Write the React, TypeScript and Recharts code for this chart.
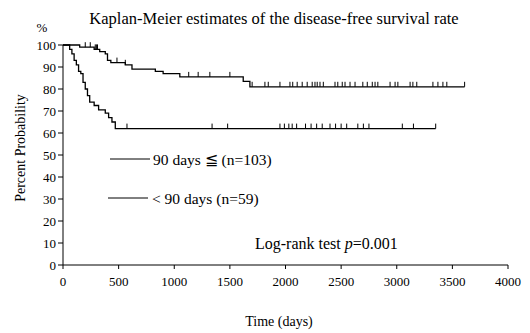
import React from 'react';
import { ComposedChart, Line, Scatter, XAxis, YAxis } from 'recharts';

// step points of the Kaplan-Meier curves: time (days) and survival (%)
const longTimes = [0, 150, 280, 330, 380, 400, 430, 560, 620, 830, 900, 1050, 1620, 1680, 3610];
const longSurv = [100, 99, 98, 97, 96, 93, 92, 91, 89, 88, 87, 85.5, 83.5, 81, 81];
const longCensored = [
  200, 245, 290, 300, 310, 485, 560, 1130, 1215, 1320, 1500, 1700, 1815, 1845, 1950, 2040, 2065,
  2105, 2150, 2195, 2240, 2265, 2285, 2310, 2340, 2445, 2470, 2510, 2535, 2580, 2625, 2695,
  2735, 2780, 2805, 2830, 2940, 2985, 3010, 3120, 3145, 3180, 3325, 3370, 3415, 3450, 3610,
];

const shortTimes = [0, 60, 80, 100, 120, 140, 160, 180, 200, 220, 240, 280, 320, 380, 410, 440, 470, 3350];
const shortSurv = [100, 98, 96, 93, 91, 88, 87, 83, 80, 77, 74, 72.5, 70.5, 69, 67, 65, 62, 62];
const shortCensored = [
  575, 1340, 1480, 1950, 1990, 2030, 2060, 2100, 2180, 2230, 2280, 2330, 2400, 2450, 2500,
  2550, 2650, 2700, 2750, 3050, 3150, 3350,
];

const xTicks = [0, 500, 1000, 1500, 2000, 2500, 3000, 3500, 4000];
const yTicks = [0, 10, 20, 30, 40, 50, 60, 70, 80, 90, 100];

const toPoints = (times: number[], surv: number[]) => times.map((t, i) => ({ t, s: surv[i] }));

// survival level of a step curve at time t
const survAt = (times: number[], surv: number[], t: number) => {
  let s = surv[0];
  times.forEach((tt, i) => {
    if (tt <= t) s = surv[i];
  });
  return s;
};

const longData = toPoints(longTimes, longSurv);
const shortData = toPoints(shortTimes, shortSurv);
const longMarks = longCensored.map((t) => ({ t, s: survAt(longTimes, longSurv, t) }));
const shortMarks = shortCensored.map((t) => ({ t, s: survAt(shortTimes, shortSurv, t) }));

const CensorTick = (props: any) => {
  const { cx, cy } = props;
  if (cx == null || cy == null) return null;
  return <line x1={cx} x2={cx} y1={cy} y2={cy - 5} stroke="#000" strokeWidth={1} />;
};

const FONT = '"Liberation Serif", "Times New Roman", serif';
const tickStyle = { fontFamily: FONT, fontSize: 13, fill: '#000' };

export default function App() {
  return (
    <div style={{ position: 'absolute', left: 0, top: 0, width: 530, height: 333, background: '#fff' }}>
      <ComposedChart width={530} height={333} margin={{ top: 45, right: 22, bottom: 48, left: 23 }}>
        <XAxis
          dataKey="t"
          type="number"
          domain={[0, 4000]}
          ticks={xTicks}
          allowDuplicatedCategory={false}
          tick={tickStyle}
          tickSize={4}
          tickMargin={8}
          stroke="#000"
          height={20}
        />
        <YAxis
          type="number"
          domain={[0, 100]}
          ticks={yTicks}
          tick={tickStyle}
          tickSize={5}
          stroke="#000"
          width={40}
        />
        <Line data={longData} dataKey="s" type="stepAfter" stroke="#000" strokeWidth={1.3} dot={false} isAnimationActive={false} />
        <Line data={shortData} dataKey="s" type="stepAfter" stroke="#000" strokeWidth={1.3} dot={false} isAnimationActive={false} />
        <Scatter data={longMarks} dataKey="s" shape={<CensorTick />} isAnimationActive={false} />
        <Scatter data={shortMarks} dataKey="s" shape={<CensorTick />} isAnimationActive={false} />
      </ComposedChart>
      <svg width={530} height={333} style={{ position: 'absolute', left: 0, top: 0, pointerEvents: 'none' }}>
        <g fontFamily={FONT} fill="#000">
          <text x={274} y={24} fontSize={16.5} textAnchor="middle">
            Kaplan-Meier estimates of the disease-free survival rate
          </text>
          <text x={42} y={32} fontSize={13} textAnchor="middle">%</text>
          <text x={20} y={148} fontSize={14} textAnchor="middle" dominantBaseline="central" transform="rotate(-90 20 148)">
            Percent Probability
          </text>
          <text x={279} y={326} fontSize={14} textAnchor="middle">Time (days)</text>
          <line x1={110} x2={150} y1={159} y2={159} stroke="#000" strokeWidth={1} />
          <text x={153} y={165} fontSize={15.5}>90 days ≦ (n=103)</text>
          <line x1={108} x2={148} y1={198} y2={198} stroke="#000" strokeWidth={1} />
          <text x={152} y={204} fontSize={15.5}>&lt; 90 days  (n=59)</text>
          <text x={255} y={249} fontSize={16}>
            Log-rank test <tspan fontStyle="italic">p</tspan>=0.001
          </text>
        </g>
      </svg>
    </div>
  );
}
